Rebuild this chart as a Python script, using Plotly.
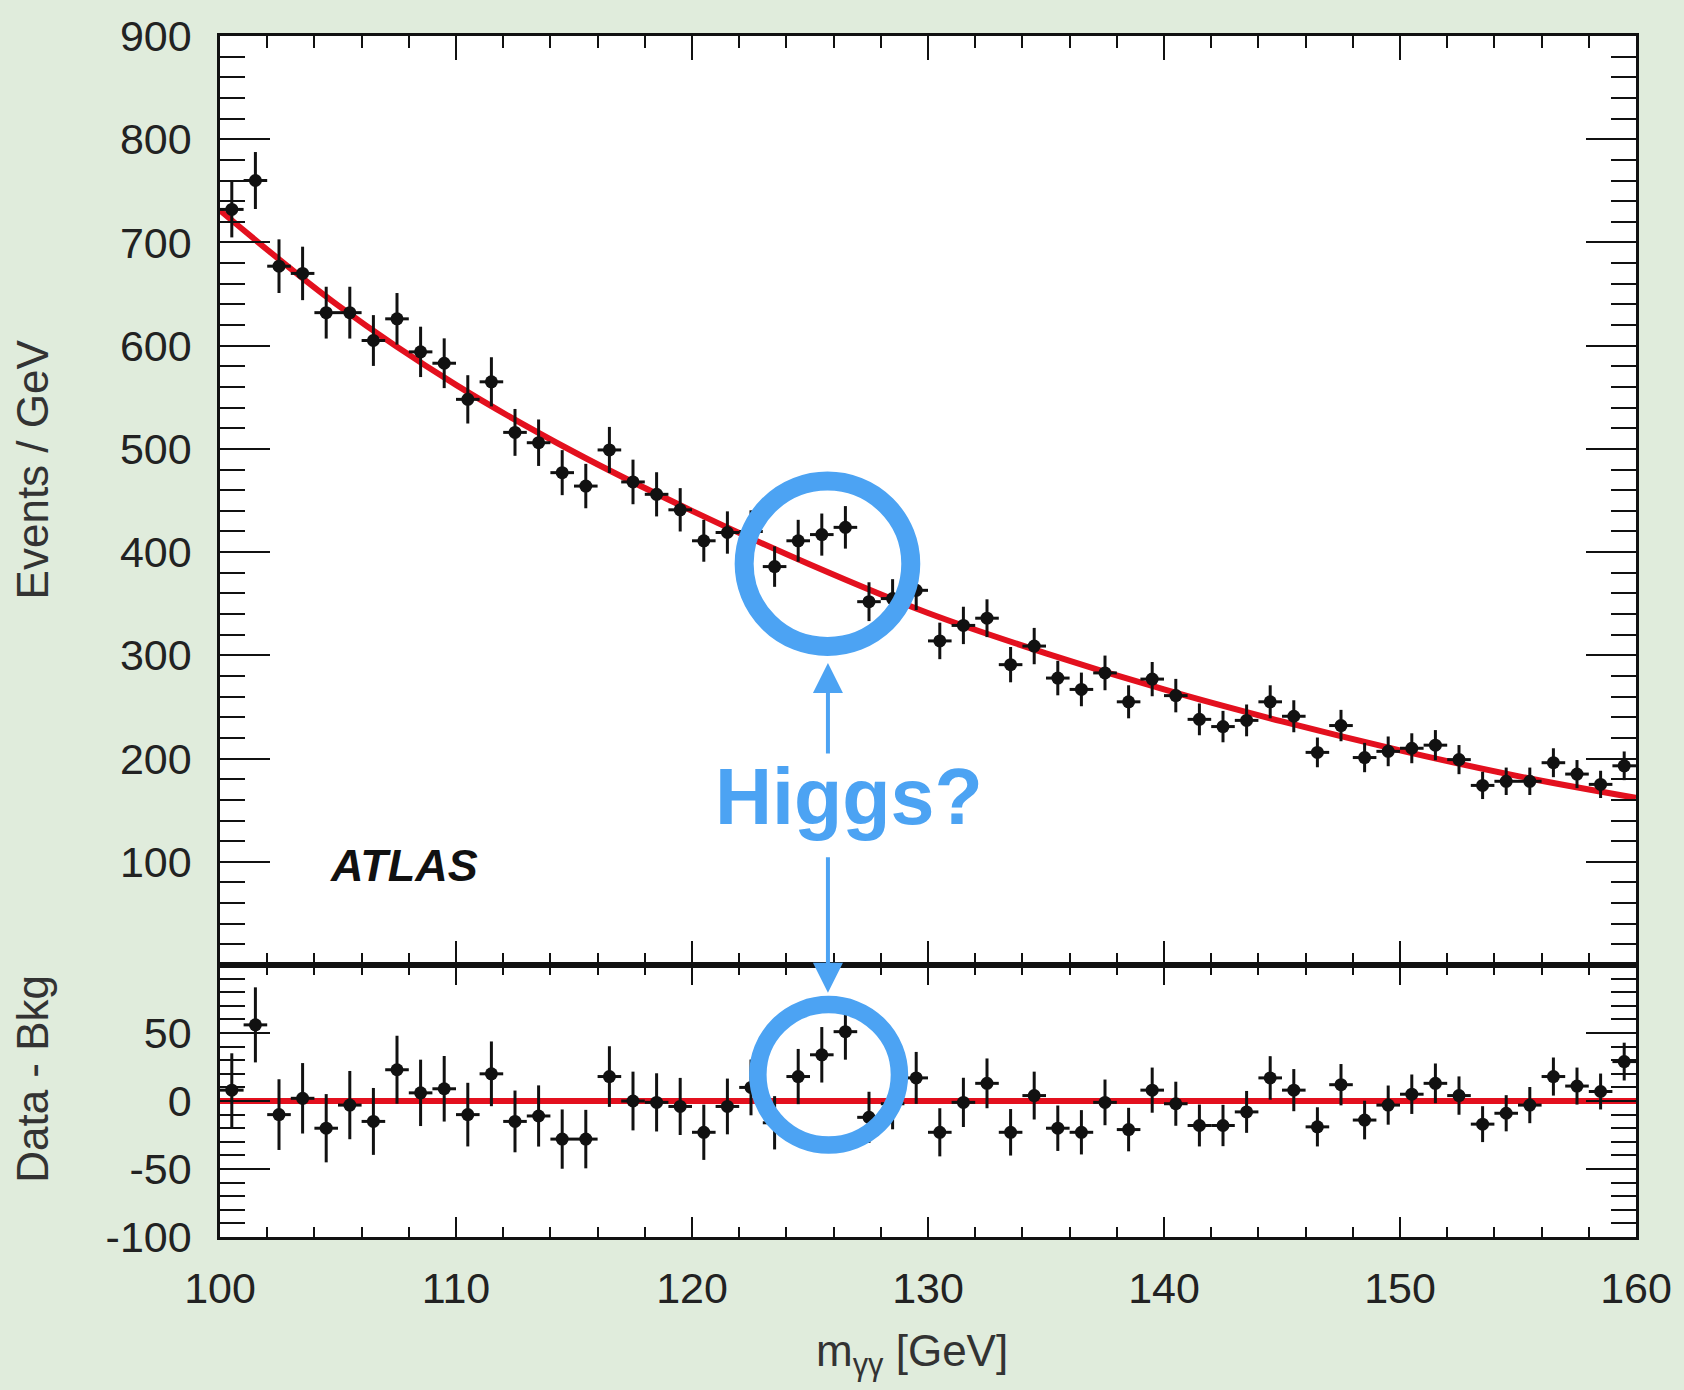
import plotly.graph_objects as go

# ---------------- data ----------------
mass = [100.5 + i for i in range(60)]  # bin centres [GeV]

events = [732, 760, 677, 670, 632, 632, 605, 626, 594, 583,
          548, 565, 516, 506, 477, 464, 499, 468, 456, 441,
          411, 419, 420, 386, 411, 417, 424, 352, 355, 363,
          314, 329, 336, 291, 309, 278, 267, 283, 255, 277,
          261, 238, 231, 237, 255, 241, 206, 232, 201, 207,
          210, 213, 199, 174, 178, 178, 196, 185, 175, 193]

event_err = [27.1, 27.6, 26.0, 25.9, 25.1, 25.1, 24.6, 25.0, 24.4, 24.1,
             23.4, 23.8, 22.7, 22.5, 21.8, 21.5, 22.3, 21.6, 21.4, 21.0,
             20.3, 20.5, 20.5, 19.6, 20.3, 20.4, 20.6, 18.8, 18.8, 19.1,
             17.7, 18.1, 18.3, 17.1, 17.6, 16.7, 16.3, 16.8, 16.0, 16.6,
             16.2, 15.4, 15.2, 15.4, 16.0, 15.5, 14.4, 15.2, 14.2, 14.4,
             14.5, 14.6, 14.1, 13.2, 13.3, 13.3, 14.0, 13.6, 13.2, 13.9]

residual = [8, 56, -10, 2, -20, -3, -15, 23, 6, 9,
            -10, 20, -15, -11, -28, -28, 18, 0, -1, -4,
            -23, -4, 10, -16, 18, 34, 51, -12, -2, 17,
            -23, -1, 13, -23, 4, -20, -23, -1, -21, 8,
            -2, -18, -18, -8, 17, 8, -19, 12, -14, -3,
            5, 13, 4, -17, -9, -3, 18, 11, 7, 29]

fit_x = [100, 105, 110, 115, 120, 125, 130, 135, 140, 145, 150, 155, 160]
fit_y = [731, 639, 562, 497, 440, 388, 341, 302, 267, 236, 208, 183, 162]

zero_x = [100, 160]
zero_y = [0, 0]

x_ticks = [100, 110, 120, 130, 140, 150, 160]
top_ticks = [0, 100, 200, 300, 400, 500, 600, 700, 800, 900]
top_ticktext = ["", "100", "200", "300", "400", "500", "600", "700", "800", "900"]
bot_ticks = [-100, -50, 0, 50, 100]
bot_ticktext = ["-100", "-50", "0", "50", ""]

# ---------------- style ----------------
BG = "#E0ECDC"
RED = "#E3101E"
BLUE = "#4CA3F3"
FONT = "Liberation Sans, Arial, sans-serif"
TICKCOL = "#222222"
INK = "#111111"

fig = go.Figure()

# top panel: fit + data
fig.add_trace(go.Scatter(x=fit_x, y=fit_y, mode="lines", line=dict(color=RED, width=6, shape="spline"),
                         xaxis="x2", yaxis="y2", hoverinfo="skip", showlegend=False))
fig.add_trace(go.Scatter(
    x=mass, y=events, mode="markers", xaxis="x2", yaxis="y2", showlegend=False,
    marker=dict(color=INK, size=13, symbol="circle"),
    error_y=dict(type="data", array=event_err, visible=True, color=INK, thickness=3, width=0),
    error_x=dict(type="constant", value=0.5, visible=True, color=INK, thickness=3, width=0),
))

# bottom panel: residuals
fig.add_trace(go.Scatter(x=zero_x, y=zero_y, mode="lines", line=dict(color=RED, width=6),
                         xaxis="x", yaxis="y", hoverinfo="skip", showlegend=False))
fig.add_trace(go.Scatter(
    x=mass, y=residual, mode="markers", xaxis="x", yaxis="y", showlegend=False,
    marker=dict(color=INK, size=13, symbol="circle"),
    error_y=dict(type="data", array=event_err, visible=True, color=INK, thickness=3, width=0),
    error_x=dict(type="constant", value=0.5, visible=True, color=INK, thickness=3, width=0),
))

split = 274 / 1210

common_axis = dict(showline=True, linecolor=INK, linewidth=2.5, mirror="ticks",
                   ticks="inside", tickcolor=INK, tickwidth=2, showgrid=False, zeroline=False,
                   tickfont=dict(family=FONT, size=43, color=TICKCOL))

fig.update_layout(
    width=1684, height=1390,
    paper_bgcolor=BG, plot_bgcolor="white",
    margin=dict(l=220, r=42, t=26, b=153),
    font=dict(family=FONT),
    xaxis=dict(common_axis, domain=[0, 1], anchor="y", range=[100, 160],
               tickmode="array", tickvals=x_ticks, ticklen=20, ticklabelstandoff=12,
               minor=dict(dtick=2, tick0=100, ticks="inside", ticklen=10, tickwidth=2,
                          tickcolor=INK, showgrid=False)),
    yaxis=dict(common_axis, domain=[0, split], anchor="x", range=[-100, 100],
               tickmode="array", tickvals=bot_ticks, ticktext=bot_ticktext,
               ticklen=50, ticklabelstandoff=17,
               minor=dict(dtick=10, tick0=0, ticks="inside", ticklen=25, tickwidth=2,
                          tickcolor=INK, showgrid=False)),
    xaxis2=dict(common_axis, domain=[0, 1], anchor="y2", range=[100, 160], matches="x",
                tickmode="array", tickvals=x_ticks, ticklen=24, showticklabels=False,
                minor=dict(dtick=2, tick0=100, ticks="inside", ticklen=12, tickwidth=2,
                           tickcolor=INK, showgrid=False)),
    yaxis2=dict(common_axis, domain=[split, 1], anchor="x2", range=[0, 900],
                tickmode="array", tickvals=top_ticks, ticktext=top_ticktext,
                ticklen=50, ticklabelstandoff=17,
                minor=dict(dtick=20, tick0=0, ticks="inside", ticklen=25, tickwidth=2,
                           tickcolor=INK, showgrid=False)),
)

# blue circles
fig.add_shape(type="circle", xref="x2", yref="y2", x0=122.21, x1=129.27, y0=308.6, y1=468.8,
              line=dict(color=BLUE, width=19), layer="above")
fig.add_shape(type="circle", xref="x", yref="y", x0=122.79, x1=128.79, y0=-32.3, y1=70.9,
              line=dict(color=BLUE, width=17.5), layer="above")

# arrows
fig.add_annotation(x=125.76, y=292.7, xref="x2", yref="y2", ax=0, ay=92, text="",
                   showarrow=True, arrowhead=2, arrowsize=1.5, arrowwidth=4, arrowcolor=BLUE)
fig.add_annotation(x=125.76, y=79.6, xref="x", yref="y", ax=0, ay=-137, text="",
                   showarrow=True, arrowhead=2, arrowsize=1.5, arrowwidth=4, arrowcolor=BLUE)

# texts
fig.add_annotation(x=126.65, y=163, xref="x2", yref="y2", text="<b>Higgs?</b>", showarrow=False,
                   font=dict(family=FONT, size=79, color=BLUE), xanchor="center", yanchor="middle")
fig.add_annotation(x=107.81, y=96, xref="x2", yref="y2", text="<b><i>ATLAS</i></b>", showarrow=False,
                   font=dict(family=FONT, size=45, color=INK), xanchor="center", yanchor="middle")

fig.add_annotation(x=(32 - 220) / 1421, y=(1237 - 464) / 1210, xref="paper", yref="paper",
                   text="Events / GeV", textangle=-90, showarrow=False,
                   font=dict(family=FONT, size=44, color="#333333"), xanchor="center", yanchor="middle")
fig.add_annotation(x=(32 - 220) / 1421, y=(1237 - 1078) / 1210, xref="paper", yref="paper",
                   text="Data - Bkg", textangle=-90, showarrow=False,
                   font=dict(family=FONT, size=44, color="#333333"), xanchor="center", yanchor="middle")
fig.add_annotation(x=(914 - 220) / 1421, y=(1237 - 1355) / 1210, xref="paper", yref="paper",
                   text="m<sub>γγ</sub> [GeV]", showarrow=False,
                   font=dict(family=FONT, size=44, color="#333333"), xanchor="center", yanchor="middle")

fig.write_html("out.html", config={"displayModeBar": False})

# remove the default page margin so the figure sits at the window's top-left corner
with open("out.html", encoding="utf-8") as f:
    html = f.read()
html = html.replace("<head>", "<head><style>html,body{margin:0;padding:0;background:%s;}</style>" % BG, 1)
with open("out.html", "w", encoding="utf-8") as f:
    f.write(html)
